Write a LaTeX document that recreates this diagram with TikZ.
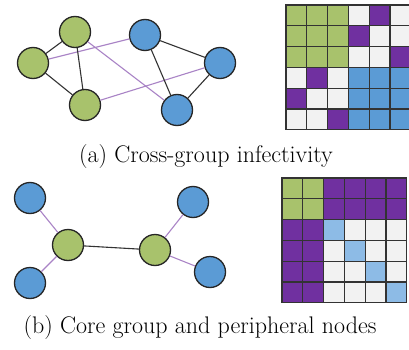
\documentclass[tikz,border=0pt]{standalone}
\usepackage{fontspec}
\begin{document}
\begin{tikzpicture}[x=1pt,y=-1pt,
  gnode/.style={circle,draw=black!85,line width=1.3pt,fill=grn,minimum size=31pt,inner sep=0pt},
  bnode/.style={circle,draw=black!85,line width=1.3pt,fill=blu,minimum size=31pt,inner sep=0pt},
  bedge/.style={draw=black!80,line width=1.1pt},
  pedge/.style={draw=pur!60,line width=1.1pt},
  cell/.style={draw=black!80,line width=1.1pt},
  captext/.style={font=\fontsize{24}{28}\selectfont}]
\definecolor{grn}{HTML}{A8C26C}
\definecolor{blu}{HTML}{5B9BD5}
\definecolor{pur}{HTML}{7030A0}
\definecolor{lbl}{HTML}{8DBBE6}
\definecolor{wht}{HTML}{F2F2F2}
\useasboundingbox (0,0) rectangle (409,350);
\fill[white] (0,0) rectangle (409,350);
% top graph
\node[gnode] (g1) at (75,32) {};
\node[gnode] (g2) at (33,63) {};
\node[gnode] (g3) at (85,105) {};
\node[bnode] (b1) at (145,35) {};
\node[bnode] (b2) at (220,63) {};
\node[bnode] (b3) at (177,110) {};
\path[pedge] (g2) -- (b1);
\path[pedge] (g1) -- (b3);
\path[pedge] (g3) -- (b2);
\path[bedge] (g1) -- (g2) (g1) -- (g3) (g2) -- (g3) (b1) -- (b2) (b1) -- (b3) (b2) -- (b3);
% top matrix
\def\cs{20.8}
\foreach \r/\row in {0/{grn,grn,grn,wht,pur,wht},1/{grn,grn,grn,pur,wht,wht},2/{grn,grn,grn,wht,wht,pur},3/{wht,pur,wht,blu,blu,blu},4/{pur,wht,wht,blu,blu,blu},5/{wht,wht,pur,blu,blu,blu}}{
  \foreach \cc [count=\k from 0] in \row {
    \path[cell,fill=\cc] (286+\k*\cs,5+\r*\cs) rectangle ++(\cs,\cs);
  }
}
\node[captext] (capa) at (206,157) {(a) Cross-group infectivity};
% bottom graph
\node[bnode] (p1) at (30,198) {};
\node[gnode] (c1) at (68,245) {};
\node[bnode] (p2) at (30,283) {};
\node[gnode] (c2) at (155,250) {};
\node[bnode] (p3) at (193,202) {};
\node[bnode] (p4) at (210,272) {};
\path[pedge] (p1) -- (c1);
\path[pedge] (p2) -- (c1);
\path[pedge] (c2) -- (p3);
\path[pedge] (c2) -- (p4);
\path[bedge] (c1) -- (c2);
% bottom matrix
\foreach \r/\row in {0/{grn,grn,pur,pur,pur,pur},1/{grn,grn,pur,pur,pur,pur},2/{pur,pur,lbl,wht,wht,wht},3/{pur,pur,wht,lbl,wht,wht},4/{pur,pur,wht,wht,lbl,wht},5/{pur,pur,wht,wht,wht,lbl}}{
  \foreach \cc [count=\k from 0] in \row {
    \path[cell,fill=\cc] (282+\k*\cs,178+\r*\cs) rectangle ++(\cs,\cs);
  }
}
\node[captext] (capb) at (200,328) {(b) Core group and peripheral nodes};
\end{tikzpicture}
\end{document}
